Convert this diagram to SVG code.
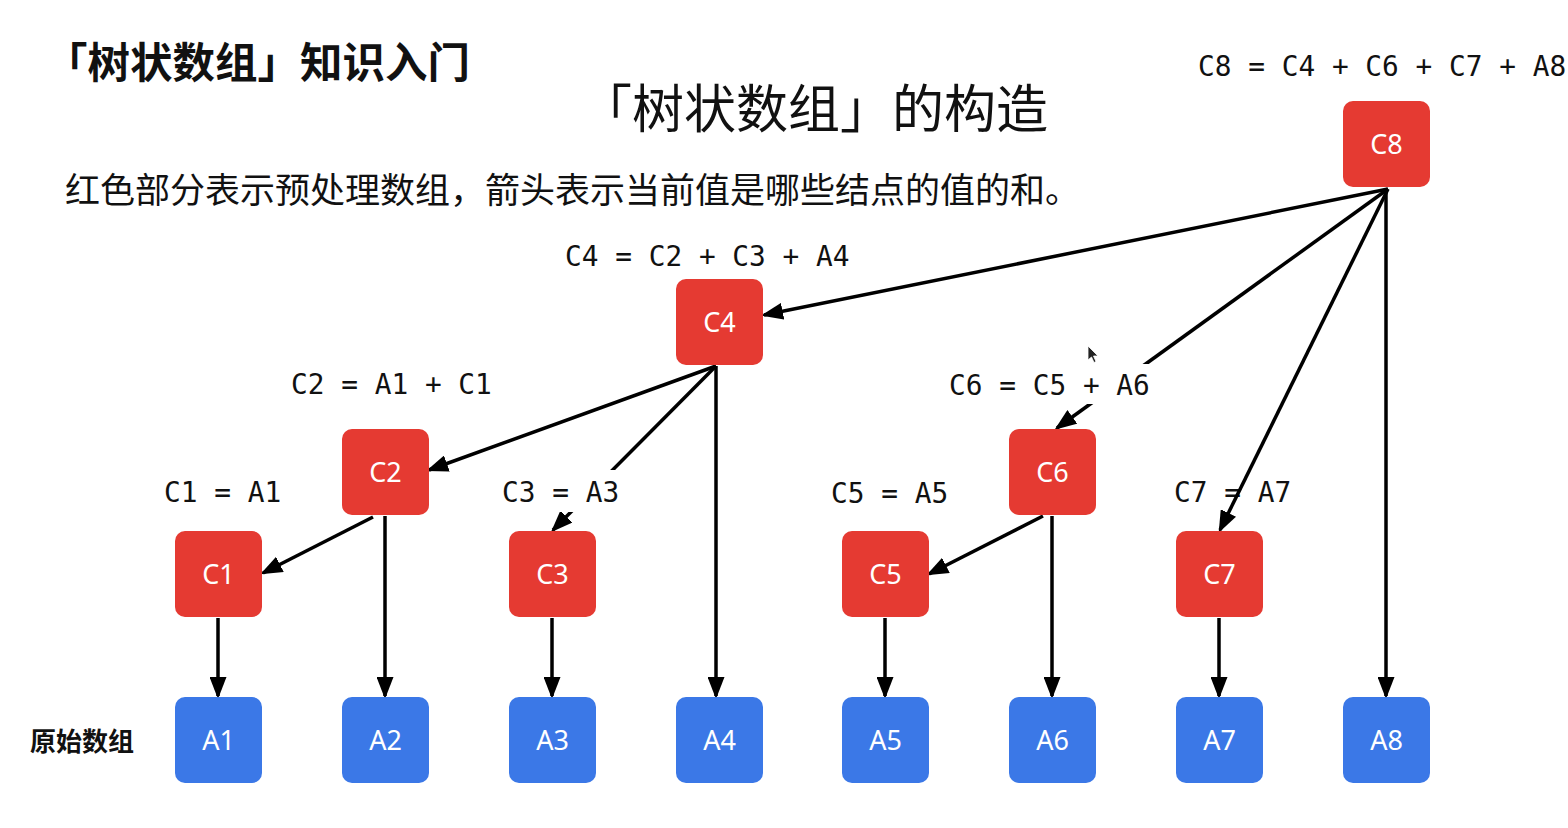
<svg xmlns="http://www.w3.org/2000/svg" width="1568" height="828" viewBox="0 0 1568 828">
<style>
.red{fill:#E53A32}
.blue{fill:#3B78E7}
.nl{font-family:"Noto Sans","Liberation Sans",sans-serif;font-size:27px;fill:#fff;text-anchor:middle}
.eq{font-family:"DejaVu Sans Mono","Liberation Mono",monospace;font-size:27.8px;fill:#111}
.cn{font-family:"Noto Sans CJK SC",sans-serif;fill:#111}
.edge{stroke:#000;stroke-width:3.5;fill:none;marker-end:url(#ah)}
</style>
<defs>
<marker id="ah" markerUnits="userSpaceOnUse" markerWidth="22" markerHeight="17" refX="19" refY="8.5" orient="auto">
<path d="M0,0 L22,8.5 L0,17 z" fill="#000"/>
</marker>
</defs>
<rect width="1568" height="828" fill="#fff"/>
<text class="cn" x="45" y="78" font-size="42.5" font-weight="bold">「树状数组」知识入门</text>
<text class="cn" x="580" y="128" font-size="52">「树状数组」的构造</text>
<text class="cn" x="65" y="203" font-size="35">红色部分表示预处理数组，箭头表示当前值是哪些结点的值的和。</text>
<text class="cn" x="30" y="751" font-size="26" font-weight="bold">原始数组</text>
<text class="eq" x="1198" y="76">C8 = C4 + C6 + C7 + A8</text>
<text class="eq" x="565" y="266">C4 = C2 + C3 + A4</text>
<text class="eq" x="291" y="394">C2 = A1 + C1</text>
<text class="eq" x="164" y="502">C1 = A1</text>
<text class="eq" x="831" y="503">C5 = A5</text>
<text class="eq" x="1174" y="502">C7 = A7</text>
<g id="connectors">
<line class="edge" x1="1388" y1="189" x2="764" y2="315"/>
<line class="edge" x1="1388" y1="189" x2="1057" y2="428"/>
<line class="edge" x1="1388" y1="189" x2="1220" y2="530"/>
<line class="edge" x1="1386" y1="189" x2="1386" y2="696"/>
<line class="edge" x1="716" y1="366" x2="429" y2="470"/>
<line class="edge" x1="716" y1="366" x2="553" y2="530"/>
<line class="edge" x1="716" y1="366" x2="716" y2="696"/>
<line class="edge" x1="373" y1="517" x2="263" y2="573"/>
<line class="edge" x1="385" y1="516" x2="385" y2="696"/>
<line class="edge" x1="1043" y1="516" x2="929" y2="574"/>
<line class="edge" x1="1052" y1="516" x2="1052" y2="696"/>
<line class="edge" x1="218" y1="618" x2="218" y2="696"/>
<line class="edge" x1="552" y1="618" x2="552" y2="696"/>
<line class="edge" x1="885" y1="618" x2="885" y2="696"/>
<line class="edge" x1="1219" y1="618" x2="1219" y2="696"/>
</g>
<rect x="945" y="364" width="210" height="40" fill="#fff"/>
<text class="eq" x="949" y="395">C6 = C5 + A6</text>
<rect x="498" y="470" width="124" height="42" fill="#fff"/>
<text class="eq" x="502" y="502">C3 = A3</text>
<path d="M1088,346 L1088,360 L1091.5,357 L1094,362.5 L1096,361.5 L1093.5,356 L1098,356 Z" fill="#222" stroke="#fff" stroke-width="0.8"/>
<g id="C8"><rect class="red" x="1343" y="101" width="87" height="86" rx="10"/><text class="nl" x="1386.5" y="154">C8</text></g>
<g id="C4"><rect class="red" x="676" y="279" width="87" height="86" rx="10"/><text class="nl" x="719.5" y="332">C4</text></g>
<g id="C2"><rect class="red" x="342" y="429" width="87" height="86" rx="10"/><text class="nl" x="385.5" y="482">C2</text></g>
<g id="C6"><rect class="red" x="1009" y="429" width="87" height="86" rx="10"/><text class="nl" x="1052.5" y="482">C6</text></g>
<g id="C1"><rect class="red" x="175" y="531" width="87" height="86" rx="10"/><text class="nl" x="218.5" y="584">C1</text></g>
<g id="C3"><rect class="red" x="509" y="531" width="87" height="86" rx="10"/><text class="nl" x="552.5" y="584">C3</text></g>
<g id="C5"><rect class="red" x="842" y="531" width="87" height="86" rx="10"/><text class="nl" x="885.5" y="584">C5</text></g>
<g id="C7"><rect class="red" x="1176" y="531" width="87" height="86" rx="10"/><text class="nl" x="1219.5" y="584">C7</text></g>
<g id="A1"><rect class="blue" x="175" y="697" width="87" height="86" rx="10"/><text class="nl" x="218.5" y="750">A1</text></g>
<g id="A2"><rect class="blue" x="342" y="697" width="87" height="86" rx="10"/><text class="nl" x="385.5" y="750">A2</text></g>
<g id="A3"><rect class="blue" x="509" y="697" width="87" height="86" rx="10"/><text class="nl" x="552.5" y="750">A3</text></g>
<g id="A4"><rect class="blue" x="676" y="697" width="87" height="86" rx="10"/><text class="nl" x="719.5" y="750">A4</text></g>
<g id="A5"><rect class="blue" x="842" y="697" width="87" height="86" rx="10"/><text class="nl" x="885.5" y="750">A5</text></g>
<g id="A6"><rect class="blue" x="1009" y="697" width="87" height="86" rx="10"/><text class="nl" x="1052.5" y="750">A6</text></g>
<g id="A7"><rect class="blue" x="1176" y="697" width="87" height="86" rx="10"/><text class="nl" x="1219.5" y="750">A7</text></g>
<g id="A8"><rect class="blue" x="1343" y="697" width="87" height="86" rx="10"/><text class="nl" x="1386.5" y="750">A8</text></g>
</svg>
